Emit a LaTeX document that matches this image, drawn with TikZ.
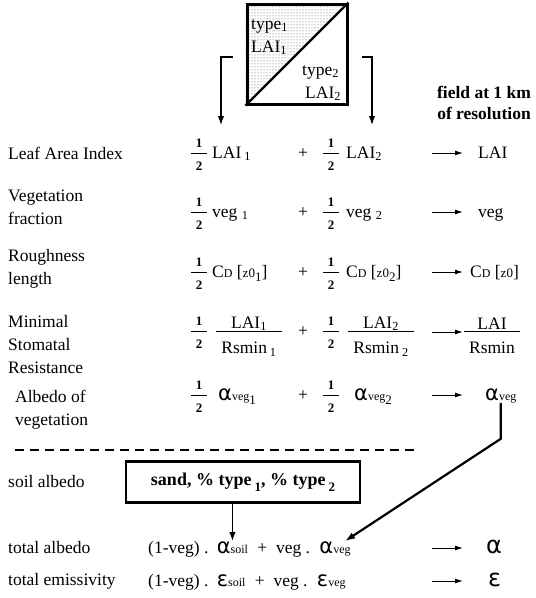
\documentclass[tikz,border=0pt]{standalone}
\usepackage{amsmath}
\usepackage{fontspec}
\setmainfont{Liberation Serif}
\newfontfamily\grk{DejaVu Sans}
\usetikzlibrary{positioning,arrows.meta,patterns,backgrounds}

\newcommand{\half}{$\genfrac{}{}{1.4pt}{1}{\makebox[16pt]{\fontsize{13}{13}\selectfont\bfseries 1}\rule[-4.5pt]{0pt}{0pt}}{\rule{0pt}{15pt}\makebox[16pt]{\fontsize{13}{13}\selectfont\bfseries 2}}$}
\newcommand{\lsub}[1]{\raisebox{-4pt}{\fontsize{13}{13}\selectfont #1}}
\newcommand{\al}[1]{{\grk\fontsize{21}{21}\selectfont α}{\fontsize{12}{12}\selectfont #1}}
\newcommand{\ep}[1]{{\grk\fontsize{21}{21}\selectfont ε}{\fontsize{12}{12}\selectfont #1}}
\newcommand{\cd}{C{\fontsize{12}{12}\selectfont D}}
\newcommand{\zo}{{\fontsize{13}{13}\selectfont z0}}
\newcommand{\rfrac}[3]{$\genfrac{}{}{0.7pt}{1}{\makebox[#1]{#2}}{\rule{0pt}{21pt}\makebox[#1]{#3}}$}
\newcommand{\bsub}[1]{\,\raisebox{-6pt}{\fontsize{13}{13}\selectfont #1}}

\begin{document}
\begin{tikzpicture}[x=1pt, y=-1pt, >=Latex,
  font=\fontsize{17.5}{23}\selectfont,
  every node/.style={inner sep=0pt},
  lbl/.style={anchor=west, align=left},
  term/.style={anchor=base west},
  hf/.style={anchor=base},
  cell/.style={draw, line width=3pt, minimum size=100pt},
  sandbox/.style={draw, line width=2.6pt, minimum width=234pt, minimum height=41pt,
                  font=\fontsize{18}{20}\selectfont\bfseries},
  brk/.style={line width=1.3pt, -{Latex[length=9pt,width=6.5pt]}},
  arr/.style={line width=1pt, -{Latex[length=8pt,width=5pt]}},
  vegarr/.style={line width=2.2pt, -{Latex[length=10pt,width=7pt]}},
]
\useasboundingbox (0,0) rectangle (536,598);

% ---------- grid cell with two types (top) ----------
\node[cell] (cell) at (297,54) {};
\begin{scope}[on background layer]
  \fill[pattern=dots, pattern color=black!70] (cell.north west) -- (cell.north east) -- (cell.south west) -- cycle;
\end{scope}
\draw[line width=2.4pt] (cell.south west) -- (cell.north east);
\node[term] (ty1) at (251,29) {type\textsubscript{1}};
\node[term] (la1) at (251,52) {LAI\textsubscript{1}};
\node[term] (ty2) at (302,75) {type\textsubscript{2}};
\node[term] (la2) at (305,98) {LAI\textsubscript{2}};

\node[font=\fontsize{17.5}{21}\selectfont\bfseries, align=center] (hdr) at (484,103) {field at 1 km\\of resolution};

\coordinate (d1) at (221,125);
\coordinate (d2) at (372,125);
\draw[brk] ([xshift=-13pt,yshift=-3pt]cell.west) -| (d1);
\draw[brk] ([xshift=13pt,yshift=-3pt]cell.east) -| (d2);

% ---------- row labels ----------
\node[lbl] (l1) at (8,153) {Leaf Area Index};
\node[lbl] (l2) at (8,207) {Vegetation\\fraction};
\node[lbl] (l3) at (8,269) {Roughness\\length};
\node[lbl] (l4) at (8,345) {Minimal\\Stomatal\\Resistance};
\node[lbl] (l5) at (15,410) {Albedo of\\vegetation};

% ---------- aggregation rules ----------
\node[hf] (h1a) at (199,158) {\half};
\node[term] (t1a) at (212,158) {LAI\,\textsubscript{1}};
\node[hf] (p1) at (303,158) {+};
\node[hf] (h1b) at (331,158) {\half};
\node[term] (t1b) at (346,158) {LAI\textsubscript{2}};
\node[term] (r1) at (478,158) {LAI};

\node[hf] (h2a) at (199,217) {\half};
\node[term] (t2a) at (212,217) {veg\ \textsubscript{1}};
\node[hf] (p2) at (303,217) {+};
\node[hf] (h2b) at (331,217) {\half};
\node[term] (t2b) at (346,217) {veg\ \textsubscript{2}};
\node[term] (r2) at (478,217) {veg};

\node[hf] (h3a) at (199,277) {\half};
\node[term] (t3a) at (212,277) {\cd\ [\zo\lsub{1}]};
\node[hf] (p3) at (303,277) {+};
\node[hf] (h3b) at (331,277) {\half};
\node[term] (t3b) at (346,277) {\cd\ [\zo\lsub{2}]};
\node[term] (r3) at (470,277) {\cd\ [\zo]};

\node[hf] (h4a) at (199,336) {\half};
\node[hf] (t4a) at (249,336) {\rfrac{66pt}{LAI\textsubscript{1}}{Rsmin\,\textsubscript{1}}};
\node[hf] (p4) at (303,336) {+};
\node[hf] (h4b) at (331,336) {\half};
\node[hf] (t4b) at (381,336) {\rfrac{66pt}{LAI\textsubscript{2}}{Rsmin\,\textsubscript{2}}};
\node[hf] (r4) at (492,336) {\rfrac{56pt}{LAI}{Rsmin}};

\node[hf] (h5a) at (199,400) {\half};
\node[term] (t5a) at (218,400) {\al{veg}\lsub{1}};
\node[hf] (p5) at (303,400) {+};
\node[hf] (h5b) at (331,400) {\half};
\node[term] (t5b) at (354,400) {\al{veg}\lsub{2}};
\node[term] (r5) at (485,400) {\al{veg}};

% arrows to the 1 km field
\foreach \n/\y in {1/153,2/212,3/272,4/332,5/395,7/548,8/581}{
  \coordinate (s\n) at (432,\y);
  \coordinate (e\n) at (463,\y);
  \draw[arr] (s\n) -- (e\n);
}

\draw[line width=2.4pt, dash pattern=on 9pt off 6pt] (15,450) -- (415,450);

% ---------- soil part (bottom) ----------
\node[lbl] (l6) at (8,482) {soil albedo};
\node[sandbox] (sand) at (243,482) {sand, \% type\bsub{1}, \% type\bsub{2}};

\node[lbl] (l7) at (8,548) {total albedo};
\node[term] (om7) at (148,553) {(1-veg) .};
\node[base right=8pt of om7] (asoil) {\al{soil}};
\node[base right=9pt of asoil] (pv7) {+\ \ veg .};
\node[base right=9pt of pv7] (aveg) {\al{veg}};
\node[term] (r7) at (486,553) {\grk\fontsize{24}{24}\selectfont α};

\node[lbl] (l8) at (8,581) {total emissivity};
\node[term] (om8) at (148,586) {(1-veg) .};
\node[base right=8pt of om8] (esoil) {\ep{soil}};
\node[base right=9pt of esoil] (pv8) {+\ \ veg .};
\node[base right=9pt of pv8] (eveg) {\ep{veg}};
\node[term] (r8) at (488,586) {\grk\fontsize{24}{24}\selectfont ε};

\draw[brk, line width=1.6pt] (sand.south -| asoil.center) -- (asoil.north);
\draw[vegarr] (r5.south) -- ++(0,36) -- ([xshift=10pt]aveg.north);

\end{tikzpicture}
\end{document}
